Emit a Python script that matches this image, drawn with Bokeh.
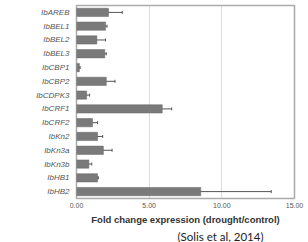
from bokeh.plotting import figure
from bokeh.models import ColumnDataSource, FixedTicker, NumeralTickFormatter, Title, Whisker, TeeHead
from bokeh.embed import file_html
from bokeh.resources import INLINE

genes = ["IbAREB", "IbBEL1", "IbBEL2", "IbBEL3", "IbCBP1", "IbCBP2", "IbCDPK3",
         "IbCRF1", "IbCRF2", "IbKn2", "IbKn3a", "IbKn3b", "IbHB1", "IbHB2"]
fold = [2.2, 2.0, 1.4, 1.95, 0.2, 2.05, 0.7, 5.9, 1.1, 1.45, 1.85, 0.85, 1.45, 8.55]
err = [0.95, 0.1, 0.6, 0.1, 0.05, 0.6, 0.2, 0.65, 0.35, 0.35, 0.6, 0.2, 0.05, 4.85]
x_ticks = [0, 5, 10, 15]

src = ColumnDataSource(dict(
    gene=genes, fold=fold,
    lo=[f - e for f, e in zip(fold, err)],
    hi=[f + e for f, e in zip(fold, err)],
))

p = figure(width=308, height=242, y_range=list(reversed(genes)), x_range=(0, 15),
           output_backend="svg", toolbar_location=None,
           min_border_left=76, min_border_right=14, min_border_top=5, min_border_bottom=0)

p.hbar(y="gene", right="fold", left=0, height=0.6, source=src,
       fill_color="#7a7a7a", line_color="#666666", line_width=0.5)
w = Whisker(source=src, base="gene", lower="lo", upper="hi", dimension="width",
            line_color="#555555", line_width=1,
            lower_head=TeeHead(size=3, line_color="#555555", line_width=1),
            upper_head=TeeHead(size=3, line_color="#555555", line_width=1))
p.add_layout(w)

p.outline_line_color = "#aaaaaa"
p.outline_line_width = 1.5
p.ygrid.grid_line_color = None
p.xgrid.ticker = FixedTicker(ticks=x_ticks)
p.xgrid.grid_line_color = "#bbbbbb"
p.xgrid.grid_line_dash = "1 1"

p.xaxis.ticker = FixedTicker(ticks=x_ticks)
p.xaxis.formatter = NumeralTickFormatter(format="0.00")
p.xaxis.axis_label = "Fold change expression (drought/control)"
p.xaxis.axis_label_text_font = "Liberation Sans"
p.xaxis.axis_label_text_font_size = "9.5px"
p.xaxis.axis_label_text_font_style = "bold"
p.xaxis.axis_label_text_color = "#333333"
p.xaxis.axis_label_standoff = 3
p.xaxis.major_label_text_font = "Liberation Sans"
p.xaxis.major_label_text_font_size = "7px"
p.xaxis.major_label_text_color = "#555555"
p.xaxis.major_label_standoff = 4

p.yaxis.major_label_text_font = "Liberation Sans"
p.yaxis.major_label_text_font_size = "8px"
p.yaxis.major_label_text_font_style = "italic"
p.yaxis.major_label_text_color = "#555555"
p.yaxis.major_label_standoff = 7

for ax in (p.xaxis, p.yaxis):
    ax.axis_line_color = None
    ax.major_tick_line_color = None
    ax.minor_tick_line_color = None
    ax.major_tick_out = 0
    ax.major_tick_in = 0

p.add_layout(Title(text="(Solis et al, 2014)", align="right", offset=31, standoff=0,
                   text_font="Lato", text_font_size="11.5px",
                   text_font_style="normal", text_color="#222222"), "below")

open("out.html", "w").write(file_html(p, INLINE))
